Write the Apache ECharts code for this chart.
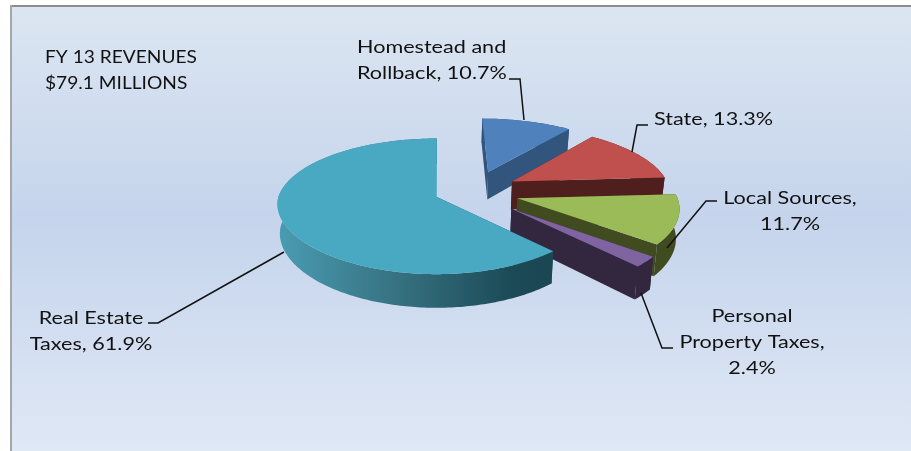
<!DOCTYPE html>
<html>
<head>
<meta charset="utf-8">
<title>FY 13 Revenues</title>
<script src="https://cdn.jsdelivr.net/npm/echarts@6/dist/echarts.min.js"></script>
<style>
	html, body { margin: 0; padding: 0; background: #fff; }
	#chart { width: 911px; height: 451px; }
</style>
</head>
<body>
<div id="chart"></div>
<script>
// chart data
const categories = ['Homestead and Rollback', 'State', 'Local Sources', 'Personal Property Taxes', 'Real Estate Taxes'];
const shares = [10.7, 13.3, 11.7, 2.4, 61.9];
const titleLines = ['FY 13 REVENUES', '$79.1 MILLIONS'];
// where each data label wraps
const labelBreaks = [['Homestead and '], [], ['Local Sources, '], ['Personal ', 'Personal Property Taxes, '], ['Real Estate ']];

// pie projection: disc radius, perspective (back and front) and thickness
const pie = { cx: 438, cy: 197, rx: 160, ry: 67.2, persp: 0.139, perspFrontX: 0.105, depth: 29, bottomScale: 0.985 };

// per slice look, in the same order as categories
const sliceStyle = [
	{ off: [0.33, 0.392], r: 1, top: '#4F81BD', side: '#31557C', cut: '#31557C' },
	{ off: [0.478, 0.24], r: 1, top: '#C0504D', side: '#4F1F1E', cut: '#4F1F1E' },
	{ off: [0.494, -0.02], r: 1, top: '#9BBB59', side: '#414B20', cut: '#414B20' },
	{ off: [0.45, -0.17], r: 1, top: '#8064A2', side: '#33273F', cut: '#33273F' },
	{ off: [-0.008, 0], r: 0.99, top: '#4AA9C2', cut: '#1B4652', side: {
		type: 'linear', x: 0, y: 0, x2: 1, y2: 0,
		colorStops: [
			{ offset: 0, color: '#4A9CB2' },
			{ offset: 0.45, color: '#35707F' },
			{ offset: 0.85, color: '#1C4A57' },
			{ offset: 1, color: '#1B4652' }
		]
	} }
];

// label text boxes and leader lines
const labelLayout = [
	{ x: 357, y: 47, align: 'left', line: [[509, 79], [520, 79], [524, 120]] },
	{ x: 654, y: 119, align: 'left', line: [[648, 125], [637, 125], [632, 152]] },
	{ x: 790, y: 198, align: 'center', line: [[717, 201], [706, 201], [667, 248]] },
	{ x: 752, y: 316, align: 'center', line: [[673, 348], [662, 348], [641, 293]] },
	{ x: 91, y: 318, align: 'center', line: [[148, 323], [158, 323], [284, 252]] }
];

const LABEL_FONT = 'Lato, "Open Sans", sans-serif';
const LABEL_SIZE = 18;
const LABEL_STRETCH = 1.2;
const LINE_HEIGHT = 26;

function project(x, y, bottom) {
	let s = 1 / (1 + pie.persp * y);
	let sX = y < 0 ? 1 / (1 + pie.perspFrontX * y) : s;
	let sx = pie.rx * x * sX;
	let sy = pie.cy - pie.ry * y * s;
	if (bottom) {
		sx *= pie.bottomScale;
		sy += pie.depth * s;
	}
	return [pie.cx + sx, sy];
}

function labelText(i) {
	let text = categories[i] + ', ' + shares[i] + '%';
	// put the line breaks in from the last one backwards
	labelBreaks[i].slice().reverse().forEach(prefix => {
		text = prefix.trimEnd() + '\n' + text.slice(prefix.length);
	});
	return text;
}

const total = shares.reduce((a, b) => a + b, 0);
let angleSum = 0;
const sliceAngles = shares.map(v => {
	let start = angleSum;
	angleSum += v / total * Math.PI * 2;
	return [start, angleSum];
});

function renderSlice(params) {
	let i = params.dataIndex;
	let style = sliceStyle[i];
	let [a0, a1] = sliceAngles[i];
	let steps = Math.ceil((a1 - a0) / (Math.PI / 180));
	let topArc = [], bottomArc = [];
	for (let k = 0; k <= steps; k++) {
		let a = a0 + (a1 - a0) * k / steps;
		let x = style.off[0] + style.r * Math.sin(a);
		let y = style.off[1] + style.r * Math.cos(a);
		topArc.push(project(x, y, false));
		bottomArc.push(project(x, y, true));
	}
	let apexTop = project(style.off[0], style.off[1], false);
	let apexBottom = project(style.off[0], style.off[1], true);
	let children = [
		// cut faces first, the outer wall and the top go over them
		{ type: 'polygon', shape: { points: [apexTop, topArc[0], bottomArc[0], apexBottom] }, style: { fill: style.cut } },
		{ type: 'polygon', shape: { points: [apexTop, topArc[steps], bottomArc[steps], apexBottom] }, style: { fill: style.cut } },
		{ type: 'polygon', shape: { points: topArc.concat(bottomArc.slice().reverse()) }, style: { fill: style.side } },
		{ type: 'polygon', shape: { points: [apexTop].concat(topArc) }, style: { fill: style.top } }
	];
	return { type: 'group', silent: true, children };
}

const chart = echarts.init(document.getElementById('chart'), null, { renderer: 'canvas' });

const graphics = [
	// plot background and its grey frame, open at the right and bottom
	{
		type: 'rect', z: 0, shape: { x: 11, y: 6, width: 900, height: 445 },
		style: { fill: {
			type: 'linear', x: 0, y: 0, x2: 0, y2: 1,
			colorStops: [
				{ offset: 0, color: '#DCE6F2' },
				{ offset: 0.48, color: '#C5D4EC' },
				{ offset: 1, color: '#DFE8F5' }
			]
		} }
	},
	{ type: 'rect', z: 1, shape: { x: 10, y: 5, width: 901, height: 2 }, style: { fill: '#8C8C8C' } },
	{ type: 'rect', z: 1, shape: { x: 10, y: 5, width: 2, height: 446 }, style: { fill: '#A6A6A6' } },
	// title block
	{
		type: 'text', z: 20, x: 45, y: 45, scaleX: 1.126,
		style: { text: titleLines.join('\n'), font: '17px ' + LABEL_FONT, lineHeight: 25.5, fill: '#111', verticalAlign: 'top' }
	}
];

categories.forEach((name, i) => {
	let lay = labelLayout[i];
	graphics.push({
		type: 'polyline', z: 20, shape: { points: lay.line },
		style: { stroke: '#111', lineWidth: 1.5, fill: null }
	});
	graphics.push({
		type: 'text', z: 20, x: lay.x, y: lay.y - 13, scaleX: LABEL_STRETCH,
		style: { text: labelText(i), font: LABEL_SIZE + 'px ' + LABEL_FONT, lineHeight: LINE_HEIGHT, fill: '#111', align: lay.align, verticalAlign: 'top' }
	});
});

chart.setOption({
	animation: false,
	graphic: { elements: graphics },
	series: [{
		type: 'custom',
		coordinateSystem: 'none',
		renderItem: renderSlice,
		z: 10,
		data: categories.map((name, i) => ({ name, value: shares[i] }))
	}]
});
</script>
</body>
</html>
